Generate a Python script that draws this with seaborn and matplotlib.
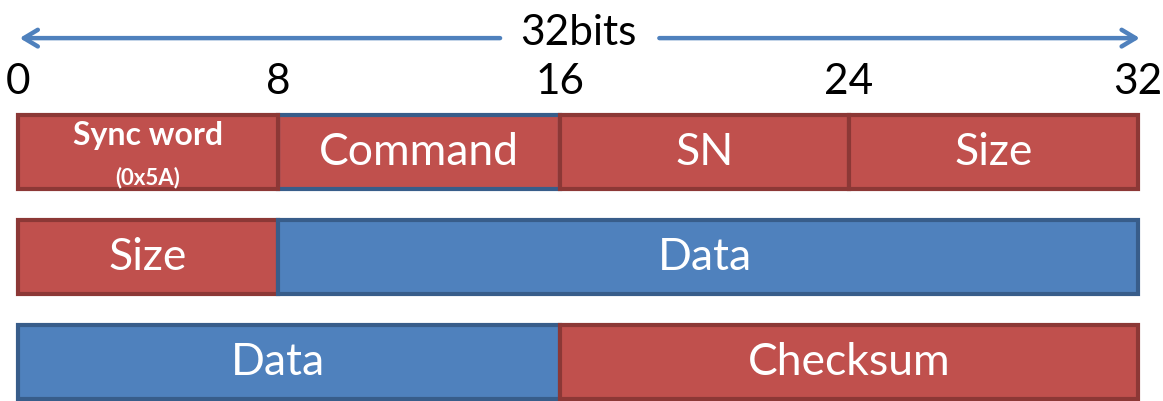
import matplotlib
matplotlib.use('Agg')
import matplotlib.pyplot as plt
import numpy as np
import seaborn as sns

# packet layout, one list per 32-bit row
row1_fields = ['Sync word', 'Command', 'SN', 'Size']
row1_bits = [8, 8, 8, 8]
row2_fields = ['Size', 'Data']
row2_bits = [8, 24]
row3_fields = ['Data', 'Checksum']
row3_bits = [16, 16]
bit_ticks = [0, 8, 16, 24, 32]
width_label = '32bits'
sync_sub = '(0x5A)'

rows = [(row1_fields, row1_bits), (row2_fields, row2_bits), (row3_fields, row3_bits)]

red, red_edge = '#C0504D', '#8C3836'
blue, blue_edge = '#4F81BD', '#385D8A'

sns.set_style('white')
plt.rcParams['font.family'] = ['Lato', 'DejaVu Sans']

fig = plt.figure(figsize=(11.63, 4.01), dpi=100)
ax = fig.add_axes([0, 0, 1, 1])

# the original drawing is not quite evenly spaced: the first byte is narrower
knot_bits = np.array([-1, 0, 8, 16, 24, 32, 33])
knot_px = np.array([-17, 18, 278, 560, 849, 1138, 1174])
ax.set_xscale('function', functions=(lambda b: np.interp(b, knot_bits, knot_px),
                                     lambda p: np.interp(p, knot_px, knot_bits)))

for r, (fields, bits) in enumerate(rows):
    left = 0
    for name, w in zip(fields, bits):
        fill = blue if name == 'Data' else red
        edge = blue_edge if name == 'Data' else red_edge
        z = 2
        if name == 'Command':
            edge, z = blue_edge, 1
        ax.barh(r, w, left=left, height=0.7, color=fill, edgecolor=edge,
                linewidth=3, zorder=z)
        cx = left + w / 2
        if name == 'Sync word':
            ax.text(cx, r - 0.16, name, ha='center', va='center', color='white',
                    fontsize=23, fontweight='bold', zorder=5)
            ax.text(cx, r + 0.24, sync_sub, ha='center', va='center', color='white',
                    fontsize=16, fontweight='bold', zorder=5)
        else:
            ax.text(cx, r + 0.0, name, ha='center', va='center', color='white',
                    fontsize=32, zorder=5)
        left += w

# bit position labels
for b in bit_ticks:
    ax.text(b, -0.67, str(b), ha='center', va='center', fontsize=30.5, color='black')

# 32 bits span arrow, split around its label
arrow_y = -1.085
head = '{},head_length=1.0,head_width=0.6'
ax.annotate('', xy=(0.05, arrow_y), xytext=(14.3, arrow_y),
            arrowprops=dict(arrowstyle=head.format('->'), lw=3.2, color=blue,
                            shrinkA=0, shrinkB=0))
ax.annotate('', xy=(32.05, arrow_y), xytext=(18.75, arrow_y),
            arrowprops=dict(arrowstyle=head.format('->'), lw=3.2, color=blue,
                            shrinkA=0, shrinkB=0))
ax.text(16.5, -1.13, width_label, ha='center', va='center', fontsize=30.5,
        color='black')

ax.set_xlim(-0.514, 32.694)
ax.set_ylim(2.371, -1.448)
ax.axis('off')

fig.savefig('out.png', dpi=100)
